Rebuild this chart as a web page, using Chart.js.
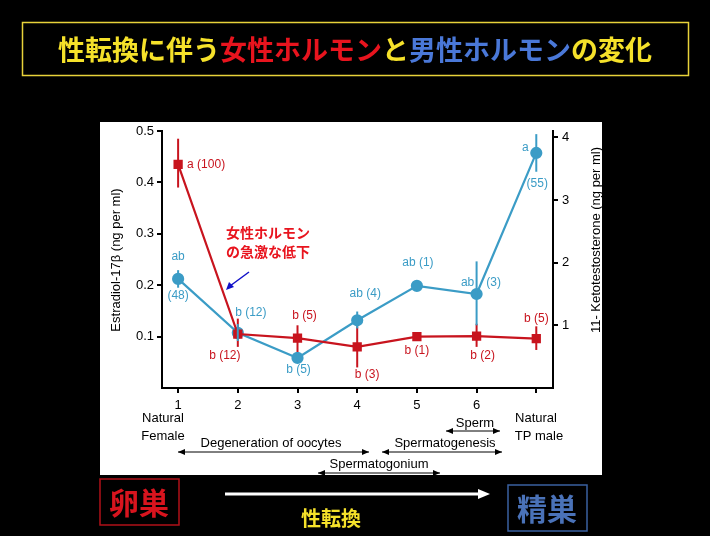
<!DOCTYPE html>
<html><head><meta charset="utf-8">
<script src="https://cdn.jsdelivr.net/npm/chart.js@4"></script>
<style>html,body{margin:0;padding:0;background:#000;}canvas{display:block}</style>
</head><body>
<div style="width:710px;height:536px;position:relative"><canvas id="c" width="710" height="536"></canvas></div>
<script>
const stages = [1, 2, 3, 4, 5, 6, 7];
const stageLabels = ['1', '2', '3', '4', '5', '6', ''];
const e2Mean = [0.435, 0.105, 0.097, 0.080, 0.100, 0.101, 0.096];
const e2Low  = [0.390, 0.080, 0.070, 0.040, 0.100, 0.080, 0.074];
const e2High = [0.485, 0.135, 0.122, 0.120, 0.100, 0.125, 0.120];
const ktMean = [1.74, 0.88, 0.48, 1.08, 1.63, 1.50, 3.75];
const ktLow  = [1.60, 0.75, 0.40, 0.95, 1.63, 1.00, 3.45];
const ktHigh = [1.88, 1.02, 0.56, 1.22, 1.63, 2.02, 4.05];
const e2Notes = ['a (100)', 'b (12)', 'b (5)', 'b (3)', 'b (1)', 'b (2)', 'b (5)'];
const ktNotes = [['ab', '(48)'], 'b (12)', 'b (5)', 'ab (4)', 'ab (1)', ['ab', '(3)'], ['a', '(55)']];

const RED = '#c8141e', BLUE = '#3b9cc6';
const F = '"Liberation Sans", Arial, sans-serif';
const JP = '"Noto Sans CJK JP", sans-serif';

function arrow2(ctx, x1, x2, y) {
  ctx.beginPath(); ctx.moveTo(x1, y); ctx.lineTo(x2, y); ctx.stroke();
  ctx.beginPath(); ctx.moveTo(x1, y); ctx.lineTo(x1 + 7, y - 3); ctx.lineTo(x1 + 7, y + 3); ctx.closePath(); ctx.fill();
  ctx.beginPath(); ctx.moveTo(x2, y); ctx.lineTo(x2 - 7, y - 3); ctx.lineTo(x2 - 7, y + 3); ctx.closePath(); ctx.fill();
}

const deco = {
  id: 'deco',
  beforeDraw(ch) {
    const ctx = ch.ctx;
    ctx.save();
    ctx.fillStyle = '#000'; ctx.fillRect(0, 0, 710, 536);
    ctx.fillStyle = '#fff'; ctx.fillRect(100, 122, 502, 353);
    ctx.strokeStyle = '#e8d23a'; ctx.lineWidth = 1.5; ctx.strokeRect(22.5, 22.5, 666, 53);
    ctx.font = 'bold 27px ' + JP; ctx.textBaseline = 'middle';
    const parts = [['性転換に伴う', '#f5e12a'], ['女性ホルモン', '#e8141e'], ['と', '#f5e12a'], ['男性ホルモン', '#4a78d8'], ['の変化', '#f5e12a']];
    let w = 0; parts.forEach(p => w += ctx.measureText(p[0]).width);
    let x = 355 - w / 2;
    parts.forEach(p => { ctx.fillStyle = p[1]; ctx.textAlign = 'left'; ctx.fillText(p[0], x, 50); x += ctx.measureText(p[0]).width; });
    ctx.strokeStyle = '#b01018'; ctx.lineWidth = 1.5; ctx.strokeRect(100, 479, 79, 46);
    ctx.strokeStyle = '#3a60a0'; ctx.strokeRect(508, 485, 79, 46);
    ctx.font = 'bold 30px ' + JP; ctx.textAlign = 'center';
    ctx.fillStyle = '#d8141e'; ctx.fillText('卵巣', 139, 503);
    ctx.fillStyle = '#4a72b8'; ctx.fillText('精巣', 547, 509);
    ctx.fillStyle = '#f5e12a'; ctx.font = 'bold 20px ' + JP; ctx.fillText('性転換', 331, 518);
    ctx.strokeStyle = '#fff'; ctx.fillStyle = '#fff'; ctx.lineWidth = 3;
    ctx.beginPath(); ctx.moveTo(225, 494); ctx.lineTo(478, 494); ctx.stroke();
    ctx.beginPath(); ctx.moveTo(490, 494); ctx.lineTo(478, 489); ctx.lineTo(478, 499); ctx.closePath(); ctx.fill();
    ctx.restore();
  },
  afterDatasetsDraw(ch) {
    const ctx = ch.ctx, xs = ch.scales.x, yl = ch.scales.y, yr = ch.scales.y2;
    ctx.save();
    ctx.lineWidth = 2;
    stages.forEach((s, i) => {
      const px = xs.getPixelForValue(s);
      ctx.strokeStyle = RED;
      ctx.beginPath(); ctx.moveTo(px, yl.getPixelForValue(e2Low[i])); ctx.lineTo(px, yl.getPixelForValue(e2High[i])); ctx.stroke();
      ctx.strokeStyle = BLUE;
      ctx.beginPath(); ctx.moveTo(px, yr.getPixelForValue(ktLow[i])); ctx.lineTo(px, yr.getPixelForValue(ktHigh[i])); ctx.stroke();
    });
    ctx.font = '12px ' + F; ctx.textBaseline = 'middle'; ctx.textAlign = 'center';
    const rOff = [[28, 0], [-13, 22], [7, -22], [10, 28], [0, 14], [6, 20], [0, -20]];
    ctx.fillStyle = RED;
    stages.forEach((s, i) => {
      const px = xs.getPixelForValue(s), py = yl.getPixelForValue(e2Mean[i]);
      ctx.fillText(e2Notes[i], px + rOff[i][0], py + rOff[i][1]);
    });
    ctx.fillStyle = BLUE;
    const bOff = [[[0, -22], [0, 17]], [13, -20], [1, 12], [8, -27], [1, -23], [[-9, -11], [17, -11]], [[-11, -5], [1, 31]]];
    stages.forEach((s, i) => {
      const px = xs.getPixelForValue(s), py = yr.getPixelForValue(ktMean[i]);
      const n = ktNotes[i];
      if (Array.isArray(n)) { ctx.fillText(n[0], px + bOff[i][0][0], py + bOff[i][0][1]); ctx.fillText(n[1], px + bOff[i][1][0], py + bOff[i][1][1]); }
      else ctx.fillText(n, px + bOff[i][0], py + bOff[i][1]);
    });
    ctx.fillStyle = '#e8141e'; ctx.font = 'bold 14px ' + JP; ctx.textAlign = 'left';
    ctx.fillText('女性ホルモン', 226, 233); ctx.fillText('の急激な低下', 226, 252);
    ctx.strokeStyle = '#1010c8'; ctx.fillStyle = '#1010c8'; ctx.lineWidth = 1.5;
    ctx.beginPath(); ctx.moveTo(249, 272); ctx.lineTo(230, 286); ctx.stroke();
    ctx.beginPath(); ctx.moveTo(226, 290); ctx.lineTo(229, 282); ctx.lineTo(234, 287); ctx.closePath(); ctx.fill();
    ctx.fillStyle = '#000'; ctx.font = '13px ' + F; ctx.textAlign = 'center';
    ctx.save(); ctx.translate(116, 260); ctx.rotate(-Math.PI / 2); ctx.fillText('Estradiol-17β (ng per ml)', 0, 0); ctx.restore();
    ctx.save(); ctx.translate(596, 240); ctx.rotate(-Math.PI / 2); ctx.fillText('11- Ketotestosterone (ng per ml)', 0, 0); ctx.restore();
    ctx.font = '13px ' + F;
    stages.forEach((s, i) => { if (stageLabels[i]) ctx.fillText(stageLabels[i], xs.getPixelForValue(s), 405); });
    ctx.fillText('Natural', 163, 418); ctx.fillText('Female', 163, 436);
    ctx.fillText('Natural', 536, 418); ctx.fillText('TP male', 539, 436);
    ctx.fillText('Sperm', 475, 423);
    ctx.fillText('Degeneration of oocytes', 271, 443);
    ctx.fillText('Spermatogenesis', 445, 443);
    ctx.fillText('Spermatogonium', 379, 464);
    ctx.lineWidth = 1; ctx.strokeStyle = '#000'; ctx.fillStyle = '#000';
    arrow2(ctx, 446, 500, 431);
    arrow2(ctx, 178, 369, 452);
    arrow2(ctx, 382, 502, 452);
    arrow2(ctx, 318, 440, 473);
    ctx.restore();
  }
};

const pts = (ys) => stages.map((s, i) => ({ x: s, y: ys[i] }));
new Chart(document.getElementById('c'), {
  type: 'line',
  data: { datasets: [
    { data: pts(e2Mean), yAxisID: 'y', borderColor: RED, backgroundColor: RED, borderWidth: 2.2, pointStyle: 'rect', pointRadius: 5, tension: 0 },
    { data: pts(ktMean), yAxisID: 'y2', borderColor: BLUE, backgroundColor: BLUE, borderWidth: 2.2, pointStyle: 'circle', pointRadius: 5, tension: 0 }
  ]},
  options: {
    responsive: false, animation: false, devicePixelRatio: 1,
    layout: { padding: { left: 100, right: 108, top: 131, bottom: 61 } },
    plugins: { legend: { display: false }, tooltip: { enabled: false } },
    scales: {
      x: { type: 'linear', min: 0.73, max: 7.28,
        afterBuildTicks: s => { s.ticks = stages.map(v => ({ value: v })); },
        afterFit: s => { s.height = 87; },
        border: { color: '#000', width: 2 },
        grid: { drawOnChartArea: false, color: '#000', tickLength: 5, lineWidth: 2 },
        ticks: { callback: () => '' } },
      y: { position: 'left', min: 0, max: 0.5,
        afterBuildTicks: s => { s.ticks = [0.1, 0.2, 0.3, 0.4, 0.5].map(v => ({ value: v })); },
        afterFit: s => { s.width = 62; },
        border: { color: '#000', width: 2 },
        grid: { drawOnChartArea: false, color: '#000', tickLength: 5, lineWidth: 2 },
        ticks: { color: '#000', font: { family: F, size: 13 }, padding: 3, callback: v => v.toFixed(1) } },
      y2: { position: 'right', min: 0, max: 4.1,
        afterBuildTicks: s => { s.ticks = [1, 2, 3, 4].map(v => ({ value: v })); },
        afterFit: s => { s.width = 49; },
        border: { color: '#000', width: 2 },
        grid: { drawOnChartArea: false, color: '#000', tickLength: 5, lineWidth: 2 },
        ticks: { color: '#000', font: { family: F, size: 13 }, padding: 4 } }
    }
  },
  plugins: [deco]
});
</script></body></html>
